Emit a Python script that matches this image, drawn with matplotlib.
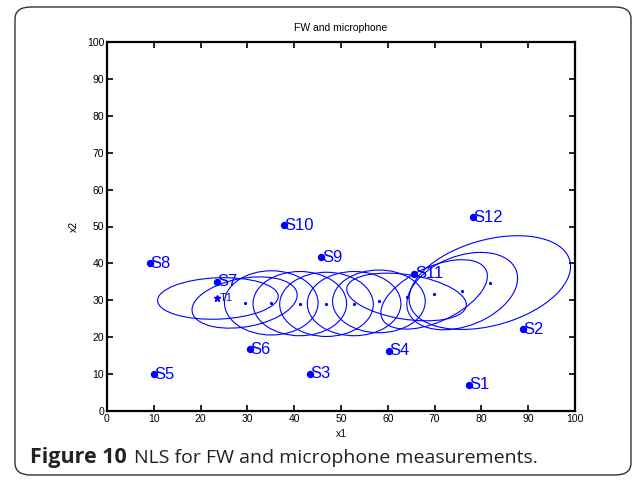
import matplotlib
matplotlib.use("Agg")
import matplotlib.pyplot as plt
from matplotlib.patches import Ellipse, FancyBboxPatch

# ---- data ----
sensor_names = ["S1", "S2", "S3", "S4", "S5", "S6", "S7", "S8", "S9", "S10", "S11", "S12"]
sensor_x = [77.3, 88.8, 43.3, 60.2, 10.0, 30.6, 23.4, 9.1, 45.8, 37.8, 65.7, 78.2]
sensor_y = [7.1, 22.1, 10.1, 16.3, 10.0, 16.8, 35.0, 40.0, 41.6, 50.4, 37.2, 52.5]

target_name = "T1"
target_x = [23.5]
target_y = [30.6]

# NLS estimates (ellipse centres) and confidence ellipse parameters
est_x = [23.7, 29.4, 35.1, 41.2, 46.9, 52.8, 58.1, 64.0, 69.9, 75.9, 81.8]
est_y = [30.5, 29.4, 29.3, 29.1, 28.9, 29.1, 29.7, 30.9, 31.6, 32.5, 34.8]
ell_a = [12.9, 11.5, 10.0, 10.0, 10.0, 10.0, 9.9, 13.0, 13.0, 13.0, 18.2]
ell_b = [5.6, 6.5, 8.7, 8.7, 8.7, 8.7, 8.5, 6.0, 7.0, 9.0, 11.3]
ell_angle = [3, 15, 0, 0, 0, 0, 0, -12, 35, 35, 24]

x_ticks = list(range(0, 101, 10))
y_ticks = list(range(0, 101, 10))

plt.rcParams['font.family'] = ['Liberation Sans', 'DejaVu Sans']

W, H = 638, 482
fig = plt.figure(figsize=(W / 100, H / 100), dpi=100)

# rounded frame around figure + caption
frame = FancyBboxPatch((15 / W, 7 / H), (616 / W), (468 / H),
                       boxstyle="round,pad=0,rounding_size=0.025",
                       transform=fig.transFigure, facecolor="none",
                       edgecolor="#333333", linewidth=1.0, zorder=0)
fig.patches.append(frame)

ax = fig.add_axes([107 / W, 1 - 411 / H, 468 / W, 369 / H])
ax.set_zorder(2)
ax.set_xlim(0, 100)
ax.set_ylim(0, 100)

blue = (0, 0, 1)

for cx, cy, a, b, ang in zip(est_x, est_y, ell_a, ell_b, ell_angle):
    e = Ellipse((cx, cy), 2 * a, 2 * b, angle=ang, fill=False,
                edgecolor=blue, linewidth=0.8)
    ax.add_patch(e)
ax.plot(est_x[1:], est_y[1:], linestyle="none", marker="o", markersize=1.3,
        color=blue)

ax.plot(sensor_x, sensor_y, linestyle="none", marker="o", markersize=4.3,
        color=blue)
for n, x, y in zip(sensor_names, sensor_x, sensor_y):
    ax.text(x + 0.1, y, n, color=blue, fontsize=12, ha="left", va="center")

ax.plot(target_x, target_y, linestyle="none", marker="*", markersize=5,
        color=blue)
ax.text(target_x[0] + 0.5, target_y[0], target_name, color=blue, fontsize=8,
        ha="left", va="center")

ax.set_xticks(x_ticks)
ax.set_yticks(y_ticks)
ax.tick_params(direction="in", top=True, right=True, length=4, width=1.2,
               labelsize=7.5, pad=2)
for s in ax.spines.values():
    s.set_linewidth(1.6)
ax.set_title("FW and microphone", fontsize=7.5, pad=8)
ax.set_xlabel("x1", fontsize=7.5, labelpad=4)
ax.set_ylabel("x2", fontsize=7.5, labelpad=6)

# caption
fig.text(30 / W, 1 - 458 / H, "Figure 10", fontsize=15.5, fontweight="bold",
         family=["Open Sans", "DejaVu Sans"], va="center", ha="left",
         color="#222222")
fig.text(134 / W, 1 - 458 / H, "NLS for FW and microphone measurements.",
         fontsize=14, family=["Open Sans", "DejaVu Sans"], va="center",
         ha="left", color="#222222")

fig.savefig("out.png", dpi=100)
